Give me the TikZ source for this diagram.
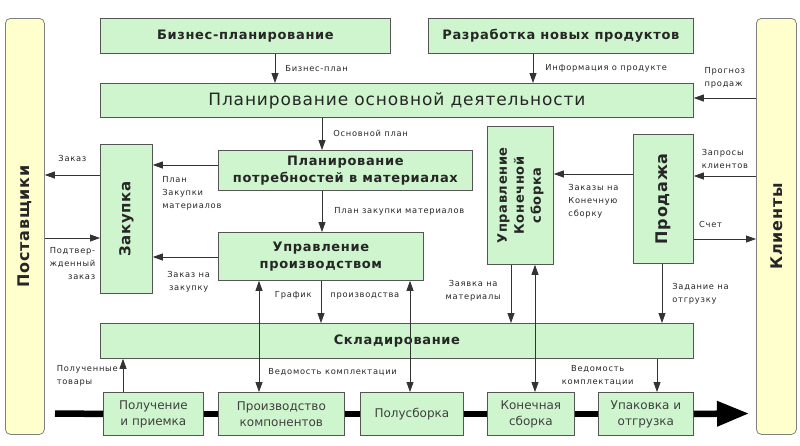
\documentclass[tikz,border=0pt]{standalone}
\usepackage{fontspec}
\usepackage{graphicx}
\setmainfont{DejaVu Sans}
\newfontfamily\lblfont[LetterSpace=9]{DejaVu Sans}
\newfontfamily\hdfont[LetterSpace=5]{DejaVu Sans}
\usetikzlibrary{arrows.meta}
\usetikzlibrary{positioning}

\definecolor{boxgreen}{RGB}{206,245,206}
\definecolor{sideyellow}{RGB}{255,255,206}
\definecolor{edgegray}{RGB}{85,85,85}

\begin{document}
\begin{tikzpicture}[x=1pt,y=-1pt]
 \tikzstyle{box} = [draw=edgegray, fill=boxgreen, line width=.8pt, anchor=north west, inner sep=0pt, align=center, text=black!85];
 \tikzstyle{side} = [box, draw=black!50, fill=sideyellow, rounded corners=5pt];
 \tikzstyle{hd} = [font=\hdfont\fontsize{13}{17}\selectfont\bfseries];
 \tikzstyle{big} = [font=\hdfont\fontsize{16}{18}\selectfont\bfseries];
 \tikzstyle{stage} = [font=\fontsize{12}{16}\selectfont, text=black!75];
 \tikzstyle{lbl} = [font=\lblfont\fontsize{8.3}{13}\selectfont, inner sep=1pt, text=black!85];

 \fill[white] (0,0) rectangle (800,445);
 \useasboundingbox (0,0) rectangle (800,445);

 % side boxes
 \node (supp) [side, big, minimum width=39, minimum height=416] at (5,18) {\rotatebox{90}{Поставщики}};
 \node (cli) [side, big, minimum width=40, minimum height=416] at (756,18) {\rotatebox{90}{Клиенты}};

 % planning
 \node (biz) [box, hd, minimum width=290, minimum height=35] at (100,18) {Бизнес-планирование};
 \node (newprod) [box, hd, minimum width=265, minimum height=35] at (428,18) {Разработка новых продуктов};
 \node (plan) [box, font=\hdfont\fontsize{17}{19}\selectfont, minimum width=593, minimum height=34] at (100,83) {Планирование основной деятельности};
 \node (mrp) [box, hd, minimum width=254, minimum height=40] at (218,150) {Планирование\\потребностей в материалах};
 \node (upr) [box, hd, minimum width=205, minimum height=48] at (218,232) {Управление\\производством};
 \node (zak) [box, font=\hdfont\fontsize{15}{17}\selectfont\bfseries, minimum width=52, minimum height=149] at (100,144) {\rotatebox{90}{Закупка}};
 \node (ukc) [box, hd, minimum width=66, minimum height=138] at (487,126) {\rotatebox{90}{\begin{tabular}{@{}c@{}}Управление\\Конечной\\сборка\end{tabular}}};
 \node (sales) [box, big, minimum width=60, minimum height=129] at (633,134) {\rotatebox{90}{Продажа}};
 \node (sklad) [box, hd, minimum width=593, minimum height=35] at (100,323) {Складирование};

 % production steps
 \node (prm) [box, stage, minimum width=100, minimum height=43] at (103,392) {Получение\\и приемка};
 \node (komp) [box, stage, minimum width=126, minimum height=43] at (218,392) {Производство\\компонентов};
 \node (polu) [box, stage, minimum width=103, minimum height=43] at (360,392) {Полусборка};
 \node (kon) [box, stage, minimum width=87, minimum height=43] at (487,392) {Конечная\\сборка};
 \node (upak) [box, stage, minimum width=95, minimum height=43] at (598,392) {Упаковка и\\отгрузка};

 \coordinate (flowin) at (55,413.5);
 \coordinate (flowout) at (749,413.5);

 \tikzstyle{C} = [draw=black!80, line width=.8pt, -{Triangle[length=10pt,width=7pt]}];
 \tikzstyle{CC} = [C, {Triangle[length=10pt,width=7pt]}-{Triangle[length=10pt,width=7pt]}];
 \tikzstyle{flow} = [black, line width=6.5pt];

 % material flow
 \draw [flow] (flowin) -- (prm.west);
 \draw [flow] (prm.east) -- (komp.west);
 \draw [flow] (komp.east) -- (polu.west);
 \draw [flow] (polu.east) -- (kon.west);
 \draw [flow] (kon.east) -- (upak.west);
 \draw [flow, -{Triangle[length=32pt,width=24pt]}] (upak.east) -- (flowout);

 % information flow
 \draw [C] (biz.south -| 275,0) -- (plan.north -| 275,0) node [lbl, midway, right=9pt] {Бизнес-план};
 \draw [C] (newprod.south -| 533,0) -- (plan.north -| 533,0) node [lbl, midway, right=11pt] {Информация о продукте};
 \draw [C] (cli.west |- 0,98) -- (plan.east |- 0,98) node [lbl, midway, above=8pt, align=left] {Прогноз\\продаж};
 \draw [C] (plan.south -| 322,0) -- (mrp.north -| 322,0) node [lbl, midway, right=10pt] {Основной план};
 \draw [C] (mrp.south -| 322,0) -- (upr.north -| 322,0) node [lbl, midway, right=11pt] {План закупки материалов};
 \draw [C] (mrp.west |- 0,165) -- (zak.east |- 0,165) node [lbl, pos=.4, below=10pt, align=left] {План\\Закупки\\материалов};
 \draw [C] (upr.west |- 0,257) -- (zak.east |- 0,257) node [lbl, pos=.45, below=13pt, align=center] {Заказ на\\закупку};
 \draw [C] (zak.west |- 0,175) -- (supp.east |- 0,175) node [lbl, midway, above=12pt] {Заказ};
 \draw [C] (supp.east |- 0,238) -- (zak.west |- 0,238) node [lbl, midway, below=8pt, align=right] {Подтвер-\\жденный\\заказ};
 \draw [C] (sales.west |- 0,174) -- (ukc.east |- 0,174) node [lbl, midway, below=9pt, align=left] {Заказы на\\Конечную\\сборку};
 \draw [C] (cli.west |- 0,176) -- (sales.east |- 0,176) node [lbl, midway, above=6pt, align=left] {Запросы\\клиентов};
 \draw [C] (sales.east |- 0,239) -- (cli.west |- 0,239) node [lbl, pos=.27, above=10pt] {Счет};
 \draw [C] (upr.south -| 321,0) -- (sklad.north -| 321,0) node [lbl, pos=.35, left=8pt] {График} node [lbl, pos=.35, right=8pt] {производства};
 \draw [CC] (upr.south -| 259,0) -- (komp.north -| 259,0) node [lbl, pos=.82, right=8pt] {Ведомость комплектации};
 \draw [CC] (upr.south -| 410,0) -- (polu.north -| 410,0);
 \draw [C] (ukc.south -| 511,0) -- (sklad.north -| 511,0) node [lbl, pos=.45, left=9pt, align=center] {Заявка на\\материалы};
 \draw [CC] (ukc.south -| 535,0) -- (kon.north -| 535,0);
 \draw [C] (sales.south -| 662,0) -- (sklad.north -| 662,0) node [lbl, midway, right=9pt, align=left] {Задание на\\отгрузку};
 \draw [C] (sklad.south -| 657,0) -- (upak.north -| 657,0) node [lbl, midway, left=22pt, align=center] {Ведомость\\комплектации};
 \draw [C] (prm.north -| 123,0) -- (sklad.south -| 123,0) node [lbl, midway, left=4pt, align=left] {Полученные\\товары};
\end{tikzpicture}
\end{document}
